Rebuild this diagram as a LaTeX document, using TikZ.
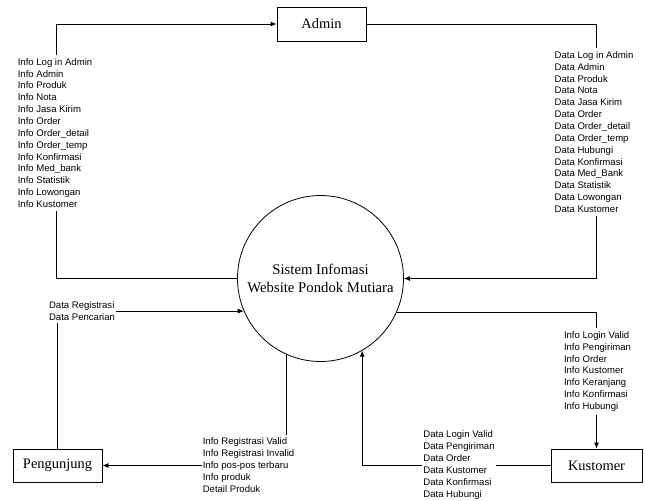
\documentclass[tikz,border=0pt]{standalone}
\usepackage{fontspec}
\setmainfont{Liberation Serif}
\newfontfamily\lblfont{Liberation Sans}
\usetikzlibrary{arrows.meta}
\begin{document}
\begin{tikzpicture}[x=1bp,y=-1bp,
  ent/.style={draw,line width=0.8bp,minimum width=89bp,minimum height=34bp,inner sep=0pt,font=\fontsize{14.5}{17}\selectfont},
  proc/.style={draw,line width=0.8bp,circle,minimum size=166bp,inner sep=0pt,align=center,font=\fontsize{14.8}{18.5}\selectfont},
  flow/.style={line width=0.8bp,-{Latex[length=6bp,width=5bp]}},
  plain/.style={line width=0.8bp},
  lbl/.style={fill=white,align=left,inner xsep=1bp,inner ysep=3bp,font=\lblfont\fontsize{9.6}{11.9}\selectfont}]
\useasboundingbox (0,0) rectangle (645,501);
\node[ent] (admin) at (321.5,24) {Admin};
\node[proc] (sys) at (320.5,278.5) {Sistem Infomasi\\Website Pondok Mutiara};
\node[ent,minimum width=89bp,minimum height=33bp] (peng) at (57.5,465.5) {Pengunjung};
\node[ent,minimum width=91bp,minimum height=33bp] (kust) at (596.5,465.5) {Kustomer};
% connectors
\draw[flow] (sys.west) -- ++(-181,0) |- (admin.west);
\draw[flow] (admin.east) -- ++(230,0) |- (sys.east);
\draw[flow] (peng.north) |- (sys.{203.8});
\draw[flow] (sys.{336.2}) -| (kust.north);
\draw[flow] (sys.{246.9}) |- (peng.east);
\draw[flow] (kust.west) -| (sys.{300});
% labels
\node[lbl] (l1) at (55,133) {Info Log in Admin\\Info Admin\\Info Produk\\Info Nota\\Info Jasa Kirim\\Info Order\\Info Order\_detail\\Info Order\_temp\\Info Konfirmasi\\Info Med\_bank\\Info Statistik\\Info Lowongan\\Info Kustomer};
\node[lbl] (l2) at (594,132) {Data Log in Admin\\Data Admin\\Data Produk\\Data Nota\\Data Jasa Kirim\\Data Order\\Data Order\_detail\\Data Order\_temp\\Data Hubungi\\Data Konfirmasi\\Data Med\_Bank\\Data Statistik\\Data Lowongan\\Data Kustomer};
\node[lbl] (l3) at (82,311) {Data Registrasi\\Data Pencarian};
\node[lbl] (l4) at (597.5,371.5) {Info Login Valid\\Info Pengiriman\\Info Order\\Info Kustomer\\Info Keranjang\\Info Konfirmasi\\Info Hubungi};
\node[lbl] (l5) at (248.5,465) {Info Registrasi Valid\\Info Registrasi Invalid\\Info pos-pos terbaru\\Info produk\\Detail Produk};
\node[lbl] (l6) at (459,465) {Data Login Valid\\Data Pengiriman\\Data Order\\Data Kustomer\\Data Konfirmasi\\Data Hubungi};
\end{tikzpicture}
\end{document}
